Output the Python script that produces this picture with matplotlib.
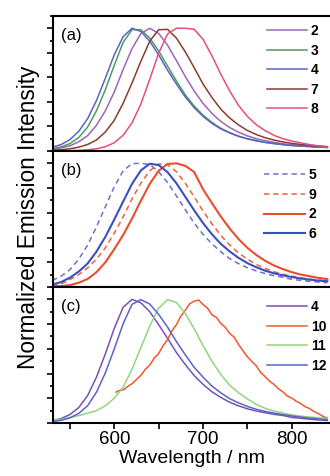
import matplotlib
matplotlib.use("Agg")
import matplotlib.pyplot as plt
from matplotlib.ticker import MultipleLocator

plt.rcParams['font.family'] = ['Liberation Sans', 'DejaVu Sans']

# wavelength grid (nm) shared by the smooth spectra
wl = [530, 540, 550, 560, 570, 580, 590, 600, 610, 620, 630, 640, 650, 660, 670, 680,
      690, 700, 710, 720, 730, 740, 750, 760, 770, 780, 790, 800, 810, 820, 830, 840]

# panel (a)
a_labels = ['2', '3', '4', '7', '8']
a2 = [.014, .025, .042, .075, .125, .21, .328, .481, .664, .834, .957, 1.0,
      .958, .863, .737, .607, .489, .388, .306, .241, .191, .153, .123, .100,
      .084, .070, .059, .051, .044, .039, .035, .031]
a3 = [.018, .033, .060, .110, .195, .328, .500, .698, .885, .989,
      .988, .920, .815, .692, .570, .457, .366, .292, .233, .185, .150, .121,
      .100, .084, .070, .060, .052, .045, .040, .036, .032, .029]
a4 = [.03, .052, .092, .160, .263, .412, .594, .784, .932, 1.0,
      .974, .894, .783, .659, .546, .441, .353, .282, .225, .180, .147, .119,
      .099, .083, .070, .060, .052, .045, .040, .036, .032, .029]
a7 = [.007, .010, .018, .031, .053, .090, .155, .250, .389, .554, .732, .895, .988,
      .991, .92, .808, .679, .546, .436, .341, .269, .212, .167, .134, .108,
      .089, .074, .062, .053, .046, .041, .036]
a8 = [.002, .002, .003, .0045, .010, .018, .035, .067, .128, .229, .383, .585, .797, .953,
      1.0, 1.0, .992, .91, .776, .626, .489, .371, .281, .214, .165, .127,
      .10, .081, .066, .052, .042, .032]

# panel (b)
b_labels = ['5', '9', '2', '6']
b5 = [.053, .087, .14, .225, .339, .487, .650, .810, .94, .998, 1.0,
      .991, .933, .845, .737, .626, .517, .427, .349, .285, .230, .189, .156,
      .130, .109, .091, .079, .062, .054, .046, .040, .035]
b9 = [.012, .025, .06, .10, .155, .225, .318, .436, .567, .712, .84, .94, .995,
      .99, .933, .839, .730, .614, .511, .417, .341, .275, .225, .182, .150,
      .124, .103, .088, .075, .064, .056, .049]
b2 = [.005, .008, .015, .035, .065, .12, .20, .306, .42, .553, .698, .834, .94, .995,
      1.0, .98, .93, .79, .679, .57, .473, .388, .317, .259, .212, .174,
      .145, .120, .101, .087, .074, .064]
b6 = [.02, .04, .075, .125, .19, .287, .406, .546, .691, .834, .943, .997,
      .986, .929, .839, .730, .620, .517, .427, .349, .288, .236, .193, .160,
      .132, .111, .094, .081, .069, .060, .052, .047]

# panel (c)
c_labels = ['4', '10', '11', '12']
c4 = [.019, .036, .068, .125, .222, .372, .56, .765, .936, 1.0,
      .972, .90, .796, .685, .570, .473, .384, .313, .253, .207, .168, .139,
      .115, .097, .083, .070, .061, .045, .038, .031, .025, .020]
c11 = [.02, .03, .045, .06, .08, .10, .14, .20, .29, .436, .61, .784, .928, .998,
       .975, .886, .763, .626, .5, .393, .306, .245, .195, .150, .119, .097,
       .080, .066, .056, .048, .043, .037]
c12 = [.012, .022, .041, .078, .14, .25, .406, .60, .803, .96,
       .998, .962, .879, .776, .659, .552, .451, .371, .299, .244, .197, .163,
       .134, .111, .094, .080, .068, .057, .048, .040, .033, .027]
# compound 10 is noisier and starts at 602 nm
wl10 = [602, 605, 610, 615, 620, 625, 630, 635, 640, 645, 650, 655, 660, 665, 670, 675,
        680, 685, 690, 695, 700, 705, 710, 715, 720, 725, 730, 735, 740, 745, 750, 755,
        760, 765, 770, 775, 780, 785, 790, 795, 800, 805, 810, 815, 820, 825, 830, 835, 840]
c10 = [.25, .262, .268, .295, .318, .352, .386, .435, .468, .525, .562, .626, .675, .745,
       .795, .865, .912, .965, .985, .995, .958, .93, .875, .855, .805, .775, .725, .695,
       .635, .585, .535, .498, .462, .408, .375, .338, .312, .276, .252, .218, .202, .176,
       .158, .132, .117, .093, .076, .054, .04]

fig = plt.figure(figsize=(3.3, 4.76), dpi=100)
ax_a = fig.add_axes([0.1606, 0.6828, 0.8394, 0.2836])
ax_b = fig.add_axes([0.1606, 0.397, 0.8394, 0.2858])
ax_c = fig.add_axes([0.1606, 0.1113, 0.8394, 0.2857])

lw = 1.1
ax_a.plot(wl, a2, color='#9b68b8', lw=lw, label=a_labels[0])
ax_a.plot(wl, a3, color='#4f9a5e', lw=lw, label=a_labels[1])
ax_a.plot(wl, a4, color='#5b63c4', lw=lw, label=a_labels[2])
ax_a.plot(wl, a7, color='#8b3d2b', lw=lw, label=a_labels[3])
ax_a.plot(wl, a8, color='#ea4c82', lw=lw, label=a_labels[4])

ax_b.plot(wl, b5, color='#6d6fd0', lw=lw, ls=(0, (3.5, 2.5)), label=b_labels[0])
ax_b.plot(wl, b9, color='#f0603a', lw=lw, ls=(0, (3.5, 2.5)), label=b_labels[1])
ax_b.plot(wl, b2, color='#e94e2c', lw=1.5, label=b_labels[2])
ax_b.plot(wl, b6, color='#3b4fc2', lw=1.5, label=b_labels[3])

ax_c.plot(wl, c4, color='#7a50b6', lw=lw, label=c_labels[0])
ax_c.plot(wl10, c10, color='#f2572d', lw=lw, label=c_labels[1])
ax_c.plot(wl, c11, color='#90d67c', lw=lw, label=c_labels[2])
ax_c.plot(wl, c12, color='#5a63c8', lw=lw, label=c_labels[3])

legend_pos = {ax_a: (0.773, 0.94), ax_b: (0.763, 0.873), ax_c: (0.773, 0.905)}
for ax, tag in zip([ax_a, ax_b, ax_c], ['(a)', '(b)', '(c)']):
    ax.set_xlim(531, 843)
    ax.set_ylim(0, 1.1)
    for s in ['left', 'top', 'bottom']:
        ax.spines[s].set_linewidth(1.5)
    ax.spines['right'].set_visible(False)
    ax.yaxis.set_major_locator(MultipleLocator(0.2))
    ax.yaxis.set_minor_locator(MultipleLocator(0.1))
    ax.xaxis.set_major_locator(MultipleLocator(100))
    ax.xaxis.set_minor_locator(MultipleLocator(50))
    ax.tick_params(axis='y', which='both', direction='out', labelleft=False, width=1.2)
    ax.tick_params(axis='y', which='major', length=4)
    ax.tick_params(axis='y', which='minor', length=2.5)
    ax.tick_params(axis='x', which='both', bottom=False, labelbottom=False)
    ax.text(0.03, 0.855, tag, transform=ax.transAxes, fontsize=12, va='center')
    ax.legend(loc='upper left', bbox_to_anchor=legend_pos[ax], frameon=False,
              borderpad=0, borderaxespad=0, handlelength=2.9, handletextpad=0.25,
              labelspacing=0.4, prop={'size': 10, 'weight': 'bold'})

ax_c.tick_params(axis='x', which='both', bottom=True, labelbottom=True,
                 direction='out', length=4, width=1.2, labelsize=13.5, pad=2)
ax_c.set_xlabel('Wavelength / nm', fontsize=14, labelpad=1.5)
fig.text(0.085, 0.543, 'Normalized Emission Intensity', rotation=90,
         fontsize=16.3, ha='center', va='center')

fig.savefig('out.png', dpi=100)
